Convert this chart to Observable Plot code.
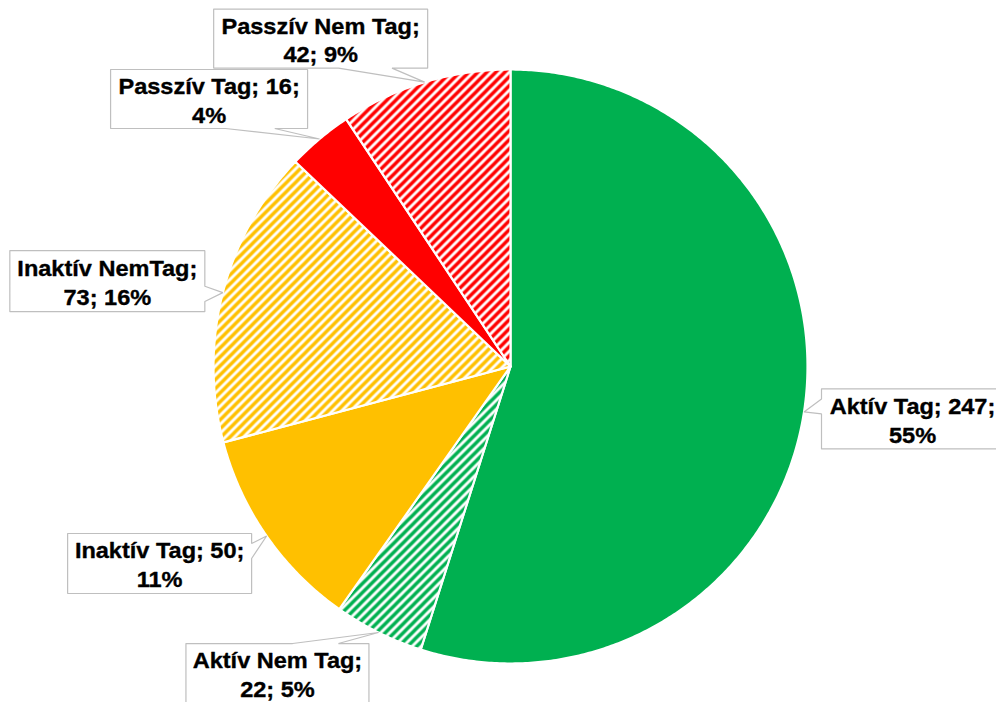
<!DOCTYPE html>
<html>
<head>
<meta charset="utf-8">
<script src="https://cdn.jsdelivr.net/npm/d3@7"></script>
<script src="https://cdn.jsdelivr.net/npm/@observablehq/plot@0.6"></script>
<style>
  html, body { margin: 0; padding: 0; background: #ffffff; overflow: hidden; }
  #chart svg { display: block; }
</style>
</head>
<body>
<div id="chart"></div>
<script>
// ---- data ----
const categories = ["Aktív Tag", "Aktív Nem Tag", "Inaktív Tag", "Inaktív NemTag", "Passzív Tag", "Passzív Nem Tag"];
const values = [247, 22, 50, 73, 16, 42];

// ---- styles ----
const sliceColors = ["#00B050", "#00B050", "#FFC000", "#FFC000", "#FF0000", "#FF0000"];
const sliceHatched = [false, true, false, true, false, true];
// line break placement of each label: true = "name; value;" / "pct", false = "name;" / "value; pct"
const breakAfterValue = [true, false, true, false, true, false];
// callout box layout (pixels): offset of box centre from the slice's arc midpoint, and box size
const labelLayout = [
  {dx: 108.5, dy: 7, w: 182, h: 60},
  {dx: -101, dy: 41, w: 183, h: 60},
  {dx: -107, dy: 27.5, w: 184, h: 60},
  {dx: -115.5, dy: -11.5, w: 195, h: 61},
  {dx: -110.5, dy: -40, w: 197, h: 59},
  {dx: -104, dy: -43.5, w: 214, h: 59}
];
const W = 996, H = 702;
const centerPx = [510, 366], radiusPx = 297;
const hatchPeriod = 9;
const textStretch = 1.07;

// ---- geometry ----
const total = d3.sum(values);
const pieGen = d3.pie().sort(null).value(d => d)(values);

function arcPoints(a0, a1) {
  const pts = [{x: 0, y: 0}];
  const n = Math.max(2, Math.ceil((a1 - a0) / (Math.PI / 360)));
  for (let k = 0; k <= n; k++) {
    const a = a0 + (a1 - a0) * k / n;
    pts.push({x: Math.sin(a), y: -Math.cos(a)});
  }
  pts.push({x: 0, y: 0});
  return pts;
}

function calloutPolygon(cx, cy, w, h, tx, ty) {
  // OOXML wedgeRectCallout geometry, all in data units
  const l = cx - w / 2, r = cx + w / 2, t = cy - h / 2, b = cy + h / 2;
  const dxPos = tx - cx, dyPos = ty - cy;
  const dq = dxPos * h / w;
  const dz = Math.abs(dyPos) - Math.abs(dq);
  const x1 = l + w * (dxPos > 0 ? 7 : 2) / 12, x2 = l + w * (dxPos > 0 ? 10 : 5) / 12;
  const y1 = t + h * (dyPos > 0 ? 7 : 2) / 12, y2 = t + h * (dyPos > 0 ? 10 : 5) / 12;
  const p = [];
  const P = (x, y) => p.push({x, y});
  P(l, t);
  if (dz > 0 && dyPos < 0) { P(x1, t); P(tx, ty); P(x2, t); }
  P(r, t);
  if (dz <= 0 && dxPos > 0) { P(r, y1); P(tx, ty); P(r, y2); }
  P(r, b);
  if (dz > 0 && dyPos > 0) { P(x2, b); P(tx, ty); P(x1, b); }
  P(l, b);
  if (dz <= 0 && dxPos < 0) { P(l, y2); P(tx, ty); P(l, y1); }
  P(l, t);
  return p;
}

const marks = [];
pieGen.forEach((s, i) => {
  marks.push(Plot.line(arcPoints(s.startAngle, s.endAngle), {
    x: "x", y: "y",
    fill: sliceHatched[i] ? `url(#hatch-${i})` : sliceColors[i],
    stroke: "white", strokeWidth: 2.2, strokeLinejoin: "round", curve: "linear"
  }));
});

const labels = pieGen.map((s, i) => {
  const mid = (s.startAngle + s.endAngle) / 2;
  const tx = Math.sin(mid), ty = -Math.cos(mid);
  const L = labelLayout[i];
  const cx = tx + L.dx / radiusPx, cy = ty + L.dy / radiusPx;
  const pct = Math.round(values[i] / total * 100) + "%";
  const text = breakAfterValue[i]
    ? `${categories[i]}; ${values[i]};\n${pct}`
    : `${categories[i]};\n${values[i]}; ${pct}`;
  return {cx, cy, text, poly: calloutPolygon(cx, cy, L.w / radiusPx, L.h / radiusPx, tx, ty)};
});

labels.forEach(lb => {
  marks.push(Plot.line(lb.poly, {
    x: "x", y: "y", fill: "white", stroke: "#BFBFBF", strokeWidth: 1.2, curve: "linear", strokeLinejoin: "miter"
  }));
});

marks.push(Plot.text(labels, {
  x: "cx", y: "cy", text: "text",
  fontSize: 22, fontWeight: "bold", fontFamily: "Liberation Sans, Arial, sans-serif",
  lineHeight: 1.31, fill: "black", stroke: "black", strokeWidth: 0.35,
  textAnchor: "middle", lineAnchor: "middle"
}));

const plot = Plot.plot({
  width: W, height: H,
  margin: 0,
  x: {domain: [-1, 1], range: [centerPx[0] - radiusPx, centerPx[0] + radiusPx], axis: null},
  y: {domain: [-1, 1], range: [centerPx[1] - radiusPx, centerPx[1] + radiusPx], axis: null},
  style: {background: "white", overflow: "hidden"},
  marks
});

// hatch patterns
const svg = d3.select(plot);
const defs = svg.insert("defs", ":first-child");
const p = hatchPeriod;
sliceColors.forEach((c, i) => {
  if (!sliceHatched[i]) return;
  const pat = defs.append("pattern")
    .attr("id", `hatch-${i}`).attr("patternUnits", "userSpaceOnUse")
    .attr("width", p).attr("height", p);
  pat.append("rect").attr("width", p).attr("height", p).attr("fill", "white");
  pat.append("path").attr("d", `M${-p/4},${p/4} L${p/4},${-p/4} M0,${p} L${p},0 M${p*0.75},${p*1.25} L${p*1.25},${p*0.75}`)
    .attr("stroke", c).attr("stroke-width", 3.4).attr("fill", "none");
});

// Excel-like horizontally wide text rendering
svg.selectAll("text").each(function() {
  const el = d3.select(this);
  el.attr("paint-order", "normal");
  const tr = el.attr("transform");
  if (tr) el.attr("transform", tr + ` scale(${textStretch},1)`);
  else {
    const x = +el.attr("x") || 0, y = +el.attr("y") || 0;
    el.attr("transform", `translate(${x},${y}) scale(${textStretch},1) translate(${-x},${-y})`);
  }
});

document.getElementById("chart").appendChild(plot);
</script>
</body>
</html>
